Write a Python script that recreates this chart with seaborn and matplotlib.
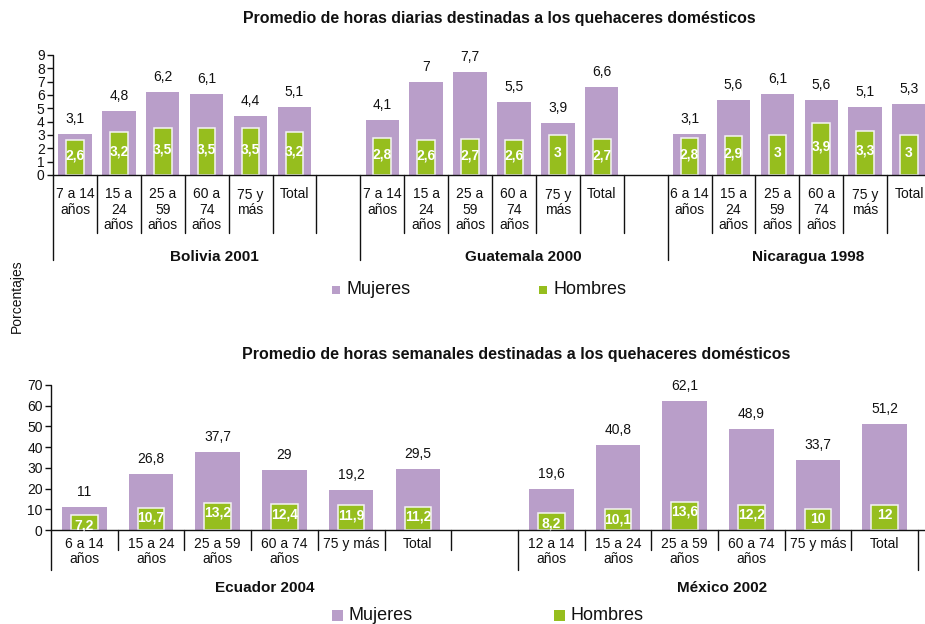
import pandas as pd
import matplotlib.pyplot as plt
from matplotlib.patches import Rectangle
import seaborn as sns

# ---------------------------------------------------------------- data ----
daily_title = "Promedio de horas diarias destinadas a los quehaceres domésticos"
weekly_title = "Promedio de horas semanales destinadas a los quehaceres domésticos"
y_label = "Porcentajes"
legend_labels = ["Mujeres", "Hombres"]

daily_countries = ["Bolivia 2001", "Guatemala 2000", "Nicaragua 1998"]
bolivia_groups = ["7 a 14\naños", "15 a\n24\naños", "25 a\n59\naños", "60 a\n74\naños", "75 y\nmás", "Total"]
guatemala_groups = ["7 a 14\naños", "15 a\n24\naños", "25 a\n59\naños", "60 a\n74\naños", "75 y\nmás", "Total"]
nicaragua_groups = ["6 a 14\naños", "15 a\n24\naños", "25 a\n59\naños", "60 a\n74\naños", "75 y\nmás", "Total"]
bolivia_women = [3.1, 4.8, 6.2, 6.1, 4.4, 5.1]
bolivia_men = [2.6, 3.2, 3.5, 3.5, 3.5, 3.2]
guatemala_women = [4.1, 7.0, 7.7, 5.5, 3.9, 6.6]
guatemala_men = [2.8, 2.6, 2.7, 2.6, 3.0, 2.7]
nicaragua_women = [3.1, 5.6, 6.1, 5.6, 5.1, 5.3]
nicaragua_men = [2.8, 2.9, 3.0, 3.9, 3.3, 3.0]
daily_ticks = list(range(0, 10))

weekly_countries = ["Ecuador 2004", "México 2002"]
ecuador_groups = ["6 a 14\naños", "15 a 24\naños", "25 a 59\naños", "60 a 74\naños", "75 y más", "Total"]
mexico_groups = ["12 a 14\naños", "15 a 24\naños", "25 a 59\naños", "60 a 74\naños", "75 y más", "Total"]
ecuador_women = [11.0, 26.8, 37.7, 29.0, 19.2, 29.5]
ecuador_men = [7.2, 10.7, 13.2, 12.4, 11.9, 11.2]
mexico_women = [19.6, 40.8, 62.1, 48.9, 33.7, 51.2]
mexico_men = [8.2, 10.1, 13.6, 12.2, 10.0, 12.0]
weekly_ticks = list(range(0, 80, 10))

# --------------------------------------------------------------- style ----
PURPLE = "#B99EC9"
GREEN = "#96BE1E"
INK = "#111111"

sns.set_theme(style="white")
plt.rcParams["font.family"] = ["Liberation Sans", "DejaVu Sans"]
plt.rcParams["text.color"] = INK

W, H, DPI = 925, 624, 100
fig = plt.figure(figsize=(W / DPI, H / DPI), dpi=DPI)


def px_axes(left, bottom, right, top):
    """Axes placed with pixel coordinates measured from the top-left corner."""
    return fig.add_axes([left / W, 1 - bottom / H, (right - left) / W, (bottom - top) / H])


def fmt(v):
    return f"{v:g}".replace(".", ",")


def build_frame(countries, groups, women, men):
    rows = []
    for b, (country, g, w, m) in enumerate(zip(countries, groups, women, men)):
        for i, (lab, wv, mv) in enumerate(zip(g, w, m)):
            rows.append(dict(pos=b * 7 + i, block=b, label=lab, country=country,
                             Mujeres=wv, Hombres=mv))
    return pd.DataFrame(rows)


def draw_panel(ax, df, ymax, yticks, slot_px, px_per_unit, women_w, men_w,
               short_px, long_px, tick_pad, men_label, right_long,
               name_nudge_px, name_y_px_below):
    sns.barplot(data=df, x="pos", y="Mujeres", native_scale=True, width=women_w,
                color=PURPLE, saturation=1, errorbar=None, linewidth=0, ax=ax)
    sns.barplot(data=df, x="pos", y="Hombres", native_scale=True, width=men_w,
                color=GREEN, saturation=1, errorbar=None, edgecolor="#f4f4f4",
                linewidth=1.1, ax=ax)

    width_px = ax.get_position().width * W
    ax.set_xlim(-0.5, -0.5 + width_px / slot_px)
    ax.set_ylim(0, ymax)
    ax.set_xlabel("")
    ax.set_ylabel("")

    for sp in ("top", "right", "left"):
        ax.spines[sp].set_visible(False)
    ax.spines["bottom"].set_color(INK)
    ax.spines["bottom"].set_linewidth(1)

    ax.set_yticks(yticks)
    ax.set_yticklabels([str(t) for t in yticks])
    ax.tick_params(axis="y", left=True, length=4, width=1, color=INK, pad=2,
                   labelsize=10, labelcolor=INK)
    ax.set_xticks(df["pos"])
    ax.set_xticklabels(df["label"])
    ax.tick_params(axis="x", bottom=False, length=0, pad=tick_pad,
                   labelsize=10, labelcolor=INK)
    for t in ax.get_xticklabels():
        t.set_linespacing(1.1)

    # value labels
    for _, r in df.iterrows():
        ax.annotate(fmt(r["Mujeres"]), (r["pos"], r["Mujeres"]), xytext=(0, 15),
                    textcoords="offset pixels", ha="center", va="center",
                    fontsize=10, color=INK, annotation_clip=False)
        if men_label == "fraction":
            xy, off = (r["pos"], 0.55 * r["Hombres"]), (0, 0)
        else:
            xy, off = (r["pos"], r["Hombres"]), (0, -10)
        ax.annotate(fmt(r["Hombres"]), xy, xytext=off, textcoords="offset pixels",
                    ha="center", va="center", fontsize=10, fontweight="bold",
                    color="white", annotation_clip=False)

    # separators under the axis
    short_u = short_px / px_per_unit
    long_u = long_px / px_per_unit
    nblocks = df["block"].nunique()
    for b in range(nblocks):
        start = b * 7 - 0.5
        top = ymax if b == 0 else 0
        ax.plot([start, start], [top, -long_u], color=INK, lw=1, clip_on=False)
        for k in range(1, 7):
            x = start + k
            bottom = -long_u if (k == 6 and right_long and b == nblocks - 1) else -short_u
            ax.plot([x, x], [0, bottom], color=INK, lw=1, clip_on=False)

    # country names
    for b, name in enumerate(df.groupby("block")["country"].first()):
        center = b * 7 + 2.5
        ax.annotate(name, (center, 0), xytext=(name_nudge_px[b], -name_y_px_below),
                    textcoords="offset pixels", ha="center", va="center",
                    fontsize=11, fontweight="bold", color=INK, annotation_clip=False)


def legend_row(y_px, sq_px, items):
    for (x_sq, x_txt), label, color in zip(items, legend_labels, [PURPLE, GREEN]):
        fig.patches.append(Rectangle((x_sq / W, 1 - (y_px + sq_px / 2) / H),
                                     sq_px / W, sq_px / H, transform=fig.transFigure,
                                     facecolor=color, edgecolor="none"))
        fig.text(x_txt / W, 1 - y_px / H, label, ha="left", va="center",
                 fontsize=13, color=INK)


# ---------------------------------------------------------- daily panel ----
daily = build_frame(daily_countries,
                    [bolivia_groups, guatemala_groups, nicaragua_groups],
                    [bolivia_women, guatemala_women, nicaragua_women],
                    [bolivia_men, guatemala_men, nicaragua_men])
ax1 = px_axes(53, 175, 925, 55)
draw_panel(ax1, daily, ymax=9, yticks=daily_ticks, slot_px=43.9, px_per_unit=120 / 9,
           women_w=0.76, men_w=0.40, short_px=58, long_px=85, tick_pad=9,
           men_label="fraction", right_long=False,
           name_nudge_px=[30, 31, 9], name_y_px_below=82)

# --------------------------------------------------------- weekly panel ----
weekly = build_frame(weekly_countries,
                     [ecuador_groups, mexico_groups],
                     [ecuador_women, mexico_women],
                     [ecuador_men, mexico_men])
ax2 = px_axes(51, 530, 925, 385)
draw_panel(ax2, weekly, ymax=70, yticks=weekly_ticks, slot_px=66.7, px_per_unit=145 / 70,
           women_w=0.67, men_w=0.40, short_px=20, long_px=40, tick_pad=5,
           men_label="top", right_long=True,
           name_nudge_px=[14, 4], name_y_px_below=58)

# ---------------------------------------------------------- annotations ----
fig.text(499 / W, 1 - 18 / H, daily_title, ha="center", va="center",
         fontsize=11.4, fontweight="bold", color=INK)
fig.text(516 / W, 1 - 354 / H, weekly_title, ha="center", va="center",
         fontsize=11.5, fontweight="bold", color=INK)
fig.text(17 / W, 1 - 296 / H, y_label, rotation=90, ha="center", va="center",
         fontsize=10, color=INK)

legend_row(290, 8.5, [(331.5, 346), (538.5, 553.5)])
legend_row(615, 11, [(332, 348), (554, 570)])

fig.savefig("out.png", dpi=DPI)
